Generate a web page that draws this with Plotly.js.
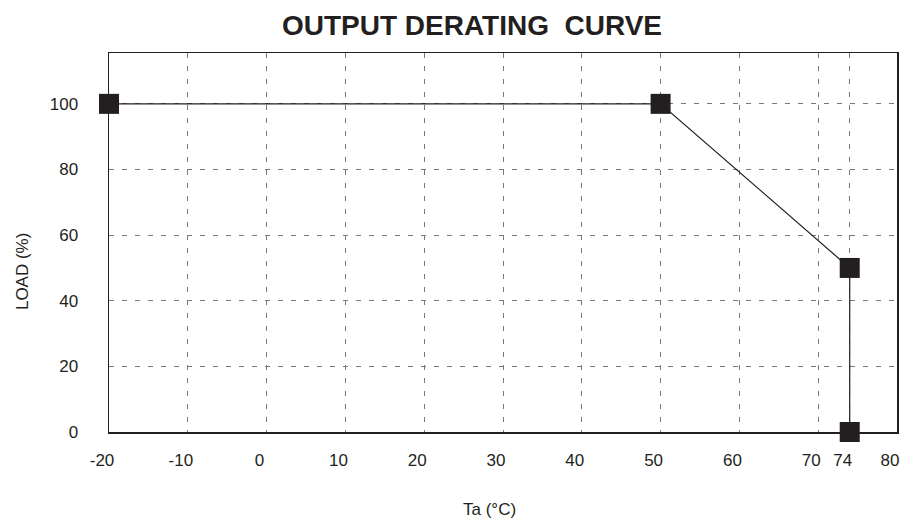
<!DOCTYPE html>
<html>
<head>
<meta charset="utf-8">
<script src="https://cdn.plot.ly/plotly-3.0.1.min.js"></script>
<style>html,body{margin:0;padding:0;background:#fff;}#chart{width:905px;height:528px;}</style>
</head>
<body>
<div id="chart"></div>
<script>
var ambientTemp = [-20, 50, 74, 74];
var loadPercent = [100, 100, 50, 0];
var xTickVals = [-20, -10, 0, 10, 20, 30, 40, 50, 60, 70, 74, 80];
var xTickText = ["-20", "-10", "0", "10", "20", "30", "40", "50", "60", "70", "74", "80"];
var yTickVals = [0, 20, 40, 60, 80, 100];
var yTickText = ["0", "20", "40", "60", "80", "100"];

var ink = "#231f20";
var font = "Liberation Sans, Arial, Helvetica, sans-serif";

var trace = {
  x: ambientTemp,
  y: loadPercent,
  type: "scatter",
  mode: "lines+markers",
  line: {color: ink, width: 1.2},
  marker: {symbol: "square", size: 20, color: ink},
  cliponaxis: false,
  showlegend: false,
  hoverinfo: "x+y"
};

var layout = {
  width: 905,
  height: 528,
  margin: {l: 109, r: 8, t: 53, b: 96},
  paper_bgcolor: "#ffffff",
  plot_bgcolor: "#ffffff",
  font: {family: font, color: ink, size: 17},
  title: {
    text: "OUTPUT DERATING\u00a0 CURVE",
    font: {family: font, size: 28, color: ink, weight: "bold"},
    x: 0.5215, xanchor: "center",
    y: 0.953, yanchor: "middle"
  },
  xaxis: {
    range: [-20, 80],
    tickmode: "array",
    tickvals: xTickVals,
    ticktext: xTickText,
    ticks: "",
    ticklabelstandoff: 12,
    ticklabelshift: -7,
    tickfont: {size: 17, color: ink},
    showgrid: true,
    gridcolor: "#7a7a7a",
    gridwidth: 1,
    griddash: "5px,8px",
    zeroline: false,
    showline: true,
    linecolor: ink,
    linewidth: 1.5,
    mirror: true,
    fixedrange: true
  },
  yaxis: {
    range: [0, 115.5],
    tickmode: "array",
    tickvals: yTickVals,
    ticktext: yTickText,
    ticks: "",
    ticklabelstandoff: 26,
    tickfont: {size: 17, color: ink},
    showgrid: true,
    gridcolor: "#7a7a7a",
    gridwidth: 1,
    griddash: "5px,8px",
    zeroline: false,
    showline: true,
    linecolor: ink,
    linewidth: 1.5,
    mirror: true,
    fixedrange: true
  },
  annotations: [
    {
      text: "LOAD (%)",
      xref: "paper", yref: "paper",
      x: -0.1104, y: 0.422,
      xanchor: "center", yanchor: "middle",
      textangle: -90,
      showarrow: false,
      font: {family: font, size: 17, color: ink}
    },
    {
      text: "Ta (°C)",
      xref: "paper", yref: "paper",
      x: 0.4835, y: -0.2058,
      xanchor: "center", yanchor: "middle",
      showarrow: false,
      font: {family: font, size: 17, color: ink}
    }
  ]
};

Plotly.newPlot("chart", [trace], layout, {displayModeBar: false, staticPlot: true});
</script>
</body>
</html>
